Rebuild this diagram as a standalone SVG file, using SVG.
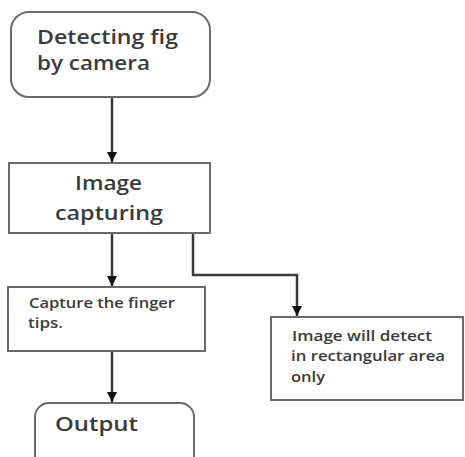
<svg xmlns="http://www.w3.org/2000/svg" width="465" height="457" viewBox="0 0 465 457">
<defs>
<style>
.box{fill:#fff;stroke:#6a6a6a;stroke-width:2}
.lbl{font-family:"Open Sans","Liberation Sans",sans-serif;fill:#3a3a3a;font-weight:600}
.big{font-size:20px}
.sm{font-size:15px}
.con{fill:none;stroke:#3a3a3a;stroke-width:2.5}
</style>
<marker id="arr" viewBox="0 0 10 10" refX="10" refY="5" markerWidth="10" markerHeight="10" markerUnits="userSpaceOnUse" orient="auto">
<path d="M0,0 L10,5 L0,10 Z" fill="#111"/>
</marker>
</defs>
<rect width="465" height="457" fill="#fff"/>
<g id="connectors">
<line class="con" x1="112" y1="97" x2="112" y2="162" marker-end="url(#arr)"/>
<line class="con" x1="112" y1="233" x2="112" y2="286" marker-end="url(#arr)"/>
<polyline class="con" points="193,233 193,275 297,275 297,316" marker-end="url(#arr)"/>
<line class="con" x1="112" y1="351" x2="112" y2="402" marker-end="url(#arr)"/>
</g>
<g id="n1">
<rect class="box" x="11" y="12" width="199" height="85" rx="18"/>
<text class="lbl big" x="37" y="44" textLength="141" lengthAdjust="spacingAndGlyphs">Detecting fig</text>
<text class="lbl big" x="37" y="70" textLength="113" lengthAdjust="spacingAndGlyphs">by camera</text>
</g>
<g id="n2">
<rect class="box" x="9" y="163" width="201" height="70"/>
<text class="lbl big" x="75" y="190" textLength="67" lengthAdjust="spacingAndGlyphs">Image</text>
<text class="lbl big" x="55" y="220" textLength="108" lengthAdjust="spacingAndGlyphs">capturing</text>
</g>
<g id="n3">
<rect class="box" x="8" y="287" width="197" height="64"/>
<text class="lbl sm" x="29" y="308" textLength="146" lengthAdjust="spacingAndGlyphs">Capture the finger</text>
<text class="lbl sm" x="28" y="328" textLength="35" lengthAdjust="spacingAndGlyphs">tips.</text>
</g>
<g id="n4">
<rect class="box" x="271" y="317" width="192" height="83"/>
<text class="lbl sm" x="292" y="341" textLength="140" lengthAdjust="spacingAndGlyphs">Image will detect</text>
<text class="lbl sm" x="291" y="361" textLength="154" lengthAdjust="spacingAndGlyphs">in rectangular area</text>
<text class="lbl sm" x="291" y="382" textLength="34" lengthAdjust="spacingAndGlyphs">only</text>
</g>
<g id="n5">
<rect class="box" x="35" y="403" width="159" height="70" rx="14"/>
<text class="lbl big" x="55" y="431" textLength="83" lengthAdjust="spacingAndGlyphs">Output</text>
</g>
</svg>
